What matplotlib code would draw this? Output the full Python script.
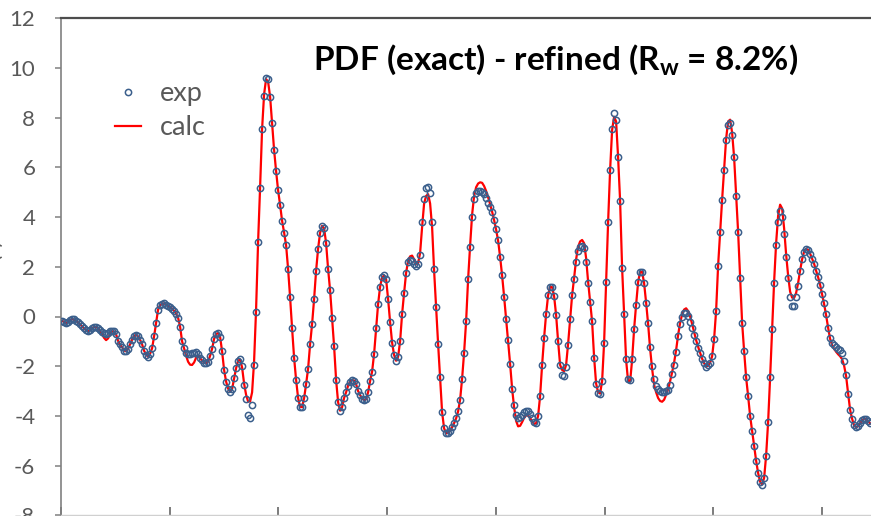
import numpy as np
import matplotlib
matplotlib.use("Agg")
import matplotlib.pyplot as plt
from matplotlib.lines import Line2D

# r grid (arbitrary units, ticks every 1.0)
r_start = 0.01
r_step = 0.0184

g_exp = [
    -0.17, -0.22, -0.26, -0.22, -0.13, -0.11, -0.12, -0.17, -0.24, -0.32,
    -0.40, -0.48, -0.55, -0.60, -0.55, -0.47, -0.42, -0.42, -0.47, -0.55,
    -0.62, -0.68, -0.69, -0.65, -0.60, -0.58, -0.58, -0.70, -0.98, -1.12,
    -1.23, -1.37, -1.40, -1.30, -1.12, -0.93, -0.78, -0.74, -0.80, -0.94,
    -1.12, -1.38, -1.53, -1.62, -1.50, -1.28, -0.80, -0.25, 0.28, 0.46,
    0.51, 0.53, 0.48, 0.43, 0.38, 0.32, 0.23, 0.12, -0.05, -0.41,
    -1.00, -1.27, -1.45, -1.52, -1.50, -1.48, -1.45, -1.42, -1.50, -1.66,
    -1.77, -1.86, -1.87, -1.82, -1.58, -1.30, -0.90, -0.70, -0.67, -0.82,
    -1.40, -2.15, -2.62, -2.90, -3.03, -2.92, -2.49, -2.08, -1.78, -1.73,
    -2.00, -2.76, -3.30, -3.95, -4.10, -3.55, -1.95, 0.17, 3.00, 5.18,
    7.55, 8.89, 9.59, 9.55, 8.85, 7.80, 6.70, 5.85, 5.08, 4.49,
    3.85, 3.38, 2.87, 1.91, 0.77, -0.48, -1.66, -2.55, -3.28, -3.63,
    -3.65, -3.29, -2.72, -2.10, -1.12, -0.30, 0.70, 1.84, 2.73, 3.37,
    3.65, 3.55, 2.95, 1.91, 1.05, -0.05, -1.20, -2.55, -3.45, -3.79,
    -3.65, -3.28, -3.05, -2.78, -2.62, -2.56, -2.58, -2.72, -3.00, -3.16,
    -3.30, -3.36, -3.33, -3.05, -2.60, -2.22, -1.50, -0.48, 0.50, 1.20,
    1.57, 1.65, 1.50, 0.70, -0.22, -1.05, -1.55, -1.78, -1.62, -1.00,
    0.10, 0.95, 1.75, 2.18, 2.28, 2.25, 2.12, 2.03, 2.10, 2.47,
    3.80, 4.73, 5.17, 5.20, 4.95, 3.80, 1.90, 0.40, -1.10, -2.45,
    -3.85, -4.50, -4.70, -4.69, -4.59, -4.45, -4.29, -4.10, -3.82, -3.35,
    -2.50, -1.45, -0.20, 1.50, 2.80, 4.00, 4.72, 4.98, 5.04, 5.05,
    5.01, 4.92, 4.76, 4.58, 4.40, 4.20, 3.90, 3.52, 3.08, 2.40,
    1.65, 0.80, -0.10, -0.95, -1.90, -2.90, -3.55, -3.95, -4.10, -4.05,
    -3.95, -3.85, -3.80, -3.82, -3.92, -4.10, -4.24, -4.28, -4.00, -3.20,
    -1.95, -0.85, 0.10, 0.85, 1.20, 1.18, 0.82, 0.06, -1.00, -1.95,
    -2.35, -2.40, -2.05, -1.15, -0.10, 0.85, 1.50, 2.20, 2.62, 2.80,
    2.84, 2.74, 2.20, 1.35, 0.60, -0.20, -1.65, -2.70, -3.08, -3.12,
    -2.60, -1.05, 1.40, 3.80, 5.90, 7.55, 8.18, 7.91, 6.40, 4.65,
    1.95, 0.09, -1.70, -2.50, -2.56, -1.70, -0.50, 0.48, 1.38, 1.80,
    1.80, 1.34, 0.56, -0.25, -1.24, -2.00, -2.50, -2.78, -2.90, -3.00,
    -3.03, -3.02, -3.00, -2.97, -2.76, -2.33, -1.95, -1.42, -0.80, -0.30,
    -0.04, 0.14, 0.15, 0.01, -0.21, -0.47, -0.74, -1.00, -1.25, -1.48,
    -1.70, -1.88, -2.02, -1.97, -1.86, -1.60, -0.90, 0.23, 2.05, 3.40,
    4.70, 5.90, 7.10, 7.72, 7.78, 7.30, 6.40, 4.86, 3.40, 1.54,
    -0.25, -1.39, -2.45, -3.20, -4.00, -4.60, -5.20, -5.80, -6.30, -6.65,
    -6.80, -6.50, -5.60, -4.25, -2.45, -0.50, 1.36, 2.88, 3.80, 4.26,
    4.02, 3.32, 2.38, 1.55, 0.77, 0.42, 0.42, 0.77, 1.22, 1.83,
    2.30, 2.61, 2.72, 2.68, 2.53, 2.33, 2.12, 1.84, 1.58, 1.28,
    0.90, 0.55, 0.10, -0.45, -0.88, -1.06, -1.16, -1.22, -1.29, -1.35,
    -1.48, -1.80, -2.35, -3.10, -3.76, -4.12, -4.38, -4.46, -4.42, -4.30,
    -4.18, -4.11, -4.12, -4.22, -4.30,
]

# refined (calculated) G(r) on the same grid
g_calc = [
    -0.17, -0.22, -0.26, -0.22, -0.13, -0.11, -0.12, -0.17, -0.24, -0.32,
    -0.40, -0.48, -0.55, -0.60, -0.55, -0.47, -0.42, -0.42, -0.47, -0.60,
    -0.72, -0.86, -0.95, -0.88, -0.70, -0.60, -0.60, -0.72, -0.98, -1.15,
    -1.23, -1.37, -1.40, -1.30, -1.12, -0.93, -0.78, -0.74, -0.80, -0.94,
    -1.12, -1.38, -1.53, -1.62, -1.50, -1.28, -0.80, -0.25, 0.28, 0.46,
    0.51, 0.53, 0.48, 0.43, 0.38, 0.32, 0.23, 0.12, -0.05, -0.41,
    -1.00, -1.28, -1.58, -1.82, -1.94, -1.95, -1.85, -1.66, -1.58, -1.68,
    -1.77, -1.86, -1.87, -1.82, -1.58, -1.30, -0.90, -0.70, -0.67, -0.82,
    -1.40, -2.15, -2.62, -2.90, -3.03, -2.92, -2.49, -2.08, -1.78, -1.73,
    -2.05, -2.70, -3.15, -3.42, -3.42, -3.05, -1.80, 0.30, 3.00, 5.20,
    7.55, 8.95, 9.55, 9.45, 8.85, 7.80, 6.70, 5.85, 5.08, 4.49,
    3.85, 3.38, 2.87, 1.91, 0.77, -0.48, -1.66, -2.55, -3.28, -3.63,
    -3.65, -3.29, -2.72, -2.10, -1.12, -0.30, 0.70, 1.84, 2.73, 3.37,
    3.65, 3.55, 2.95, 1.91, 1.05, -0.05, -1.20, -2.55, -3.45, -3.79,
    -3.65, -3.28, -3.05, -2.78, -2.62, -2.56, -2.58, -2.72, -3.00, -3.16,
    -3.30, -3.36, -3.33, -3.05, -2.60, -2.22, -1.50, -0.48, 0.50, 1.20,
    1.57, 1.65, 1.50, 0.70, -0.22, -1.05, -1.55, -1.78, -1.62, -1.00,
    0.10, 0.95, 1.75, 2.25, 2.42, 2.45, 2.30, 2.12, 2.15, 2.55,
    3.60, 4.55, 4.85, 4.92, 4.55, 3.60, 1.85, 0.35, -1.10, -2.45,
    -3.85, -4.50, -4.70, -4.69, -4.59, -4.45, -4.29, -4.10, -3.82, -3.35,
    -2.50, -1.45, -0.20, 1.50, 2.85, 4.10, 4.85, 5.20, 5.35, 5.40,
    5.38, 5.25, 5.05, 4.80, 4.52, 4.22, 3.88, 3.50, 3.05, 2.40,
    1.65, 0.80, -0.10, -0.95, -1.90, -2.90, -3.65, -4.20, -4.42, -4.40,
    -4.25, -4.08, -3.98, -3.98, -4.08, -4.22, -4.32, -4.30, -4.00, -3.20,
    -1.95, -0.85, 0.10, 0.85, 1.20, 1.18, 0.82, 0.06, -1.00, -1.95,
    -2.15, -2.20, -1.95, -1.10, -0.10, 0.85, 1.55, 2.30, 2.80, 3.02,
    3.08, 2.95, 2.35, 1.40, 0.60, -0.20, -1.65, -2.70, -3.05, -3.10,
    -2.60, -1.05, 1.40, 3.80, 5.90, 7.50, 8.04, 7.85, 6.40, 4.65,
    1.95, 0.09, -1.75, -2.62, -2.62, -1.75, -0.50, 0.48, 1.38, 1.80,
    1.80, 1.34, 0.56, -0.30, -1.30, -2.10, -2.75, -3.05, -3.28, -3.40,
    -3.43, -3.35, -3.15, -2.92, -2.60, -2.25, -1.85, -1.35, -0.75, -0.25,
    0.08, 0.28, 0.33, 0.22, 0.00, -0.30, -0.62, -0.95, -1.22, -1.46,
    -1.70, -1.88, -2.02, -1.97, -1.86, -1.60, -0.90, 0.23, 2.05, 3.40,
    4.70, 5.95, 7.15, 7.85, 7.92, 7.40, 6.40, 4.86, 3.40, 1.54,
    -0.25, -1.39, -2.45, -3.20, -4.00, -4.60, -5.20, -5.80, -6.30, -6.65,
    -6.75, -6.50, -5.60, -4.25, -2.45, -0.50, 1.40, 2.95, 4.05, 4.50,
    4.35, 3.55, 2.50, 1.65, 1.00, 0.76, 0.75, 0.95, 1.35, 1.85,
    2.30, 2.61, 2.72, 2.68, 2.53, 2.33, 2.12, 1.84, 1.58, 1.28,
    0.90, 0.50, 0.05, -0.45, -0.90, -1.15, -1.30, -1.42, -1.52, -1.60,
    -1.72, -1.98, -2.40, -3.10, -3.76, -4.12, -4.38, -4.46, -4.42, -4.30,
    -4.18, -4.11, -4.12, -4.22, -4.30,
]

y_ticks = [-8, -6, -4, -2, 0, 2, 4, 6, 8, 10, 12]

r = r_start + r_step * np.arange(len(g_exp))

plt.rcParams['font.family'] = ['Lato', 'DejaVu Sans']
plt.rcParams['mathtext.fontset'] = 'custom'
plt.rcParams['mathtext.rm'] = 'Lato'
plt.rcParams['mathtext.bf'] = 'Lato:bold'
plt.rcParams['axes.unicode_minus'] = False

W, H = 871, 516
fig = plt.figure(figsize=(W / 100, H / 100), dpi=100)
ax = fig.add_axes([61 / W, 0.7 / H, 1 - 61 / W, 497 / H])

blue = '#3b5f8c'
ax.plot(r, g_calc, color='#ff0000', lw=1.6, zorder=2)
ax.plot(r, g_exp, ls='none', marker='o', ms=4.5, mfc='none', mec=blue, mew=1.1, zorder=3)

ax.set_xlim(0, 810 / 108.7)
ax.set_ylim(-8, 12)
ax.set_xticks(range(0, 8))
ax.set_yticks(y_ticks)
ax.set_yticklabels([str(v) for v in y_ticks])

ax.spines['right'].set_visible(False)
ax.spines['left'].set_color('#808080')
ax.spines['left'].set_linewidth(1.2)
ax.spines['top'].set_color('#4d4d4d')
ax.spines['top'].set_linewidth(1.6)
ax.spines['bottom'].set_color('#d0d0d0')
ax.spines['bottom'].set_linewidth(1.0)

ax.tick_params(axis='y', direction='out', length=4.5, width=1.1, color='#808080',
               labelsize=16, labelcolor='#595959', pad=14)
ax.tick_params(axis='x', direction='in', length=6, width=1.1, color='#595959',
               labelbottom=False)

handles = [
    Line2D([], [], ls='none', marker='o', ms=4.5, mfc='none', mec=blue, mew=1.1),
    Line2D([], [], color='#ff0000', lw=1.6),
]
ax.legend(handles, ['exp', 'calc'], loc='upper left', bbox_to_anchor=(115 / W, 1 - 81 / H),
          bbox_transform=fig.transFigure, frameon=False, fontsize=19.5, handlelength=0.95,
          handletextpad=0.7, labelspacing=0.35, borderpad=0, borderaxespad=0,
          labelcolor='#595959')

fig.text(313 / W, 1 - 60 / H, r'PDF (exact) - refined (R$_{\mathbf{w}}$ = 8.2%)',
         fontsize=24, fontweight='bold', color='black', ha='left', va='center')

# partially visible y axis title at the left edge
fig.text(3 / W, 0.5, 'G(r)', rotation=90, fontsize=16, color='#595959', ha='right', va='center')

fig.savefig('out.png', dpi=100)
